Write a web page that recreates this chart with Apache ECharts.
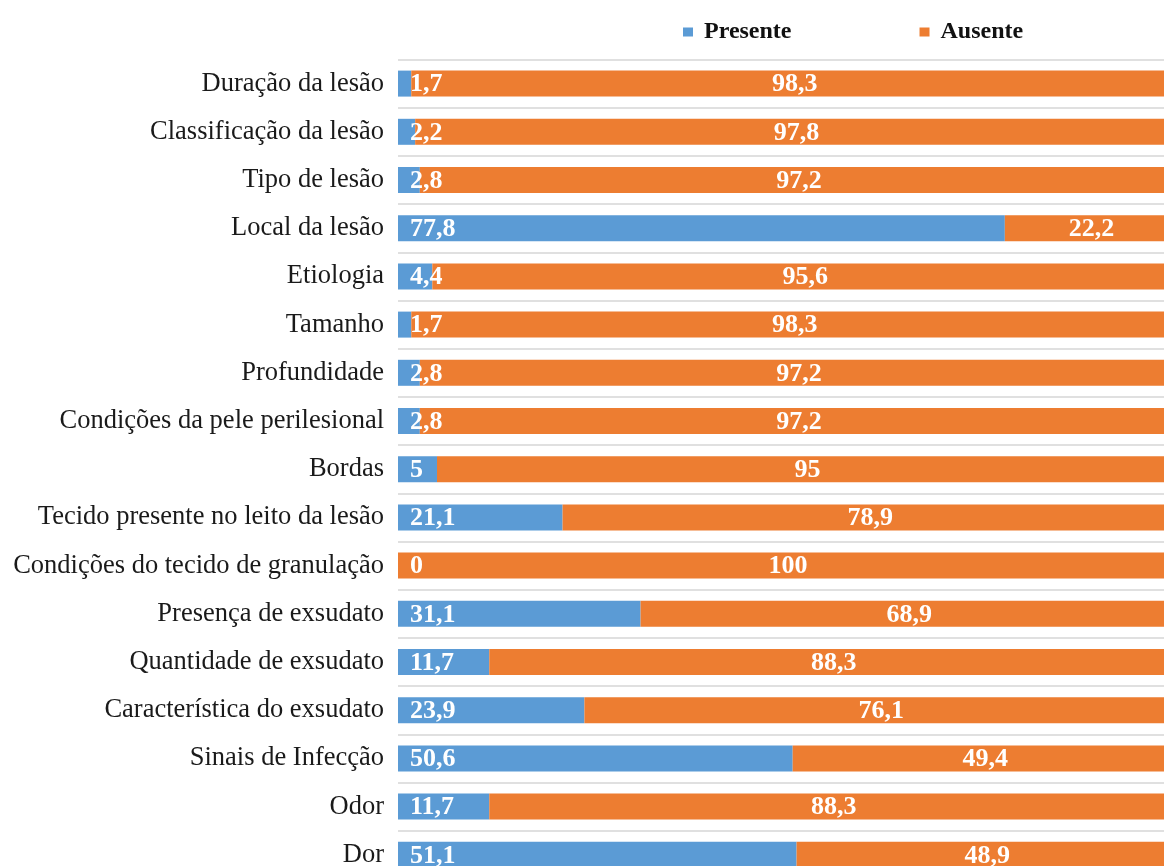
<!DOCTYPE html>
<html>
<head>
<meta charset="utf-8">
<script src="https://cdn.jsdelivr.net/npm/echarts@6/dist/echarts.min.js"></script>
<style>html,body{margin:0;padding:0;background:#fff;}#c{width:1164px;height:866px;}</style>
</head>
<body>
<div id="c"></div>
<script>
const categories = ["Duração da lesão","Classificação da lesão","Tipo de lesão","Local da lesão","Etiologia","Tamanho","Profundidade","Condições da pele perilesional","Bordas","Tecido presente no leito da lesão","Condições do tecido de granulação","Presença de exsudato","Quantidade de exsudato","Característica do exsudato","Sinais de Infecção","Odor","Dor"];
const presente = [1.7,2.2,2.8,77.8,4.4,1.7,2.8,2.8,5,21.1,0,31.1,11.7,23.9,50.6,11.7,51.1];
const ausente = [98.3,97.8,97.2,22.2,95.6,98.3,97.2,97.2,95,78.9,100,68.9,88.3,76.1,49.4,88.3,48.9];

const fmt = p => String(p.value).replace('.', ',');
const serif = '"Liberation Serif","DejaVu Serif",serif';
const chart = echarts.init(document.getElementById('c'));
chart.setOption({
  animation: false,
  legend: {
    left: 678, top: 15, itemWidth: 10, itemHeight: 9, itemGap: 128,
    icon: 'rect',
    textStyle: {fontFamily: serif, fontWeight: 'bold', fontSize: 24, color: '#111', padding: [0, 0, 0, 6]},
    data: ['Presente','Ausente']
  },
  grid: {left: 398, top: 59.5, width: 780, height: 819.4, outerBoundsMode: 'none', containLabel: false},
  xAxis: {type: 'value', min: 0, max: 100, show: false},
  yAxis: {
    type: 'category', data: categories, inverse: true,
    axisLine: {show: false}, axisTick: {show: false},
    axisLabel: {fontFamily: serif, fontSize: 26.5, color: '#1a1a1a', margin: 14},
    splitLine: {show: true, lineStyle: {color: '#d6d6d6', width: 1.5}}
  },
  series: [
    {
      name: 'Presente', type: 'bar', stack: 't', data: presente, barWidth: 26,
      itemStyle: {color: '#5B9BD5'},
      label: {show: true, position: 'insideLeft', distance: 12, formatter: fmt, color: '#fff',
        fontFamily: serif, fontWeight: 'bold', fontSize: 26, offset: [0, 1]}
    },
    {
      name: 'Ausente', type: 'bar', stack: 't', data: ausente, barWidth: 26,
      itemStyle: {color: '#ED7D31'},
      label: {show: true, position: 'inside', formatter: fmt, color: '#fff',
        fontFamily: serif, fontWeight: 'bold', fontSize: 26, offset: [0, 1]}
    }
  ]
});
</script>
</body>
</html>
